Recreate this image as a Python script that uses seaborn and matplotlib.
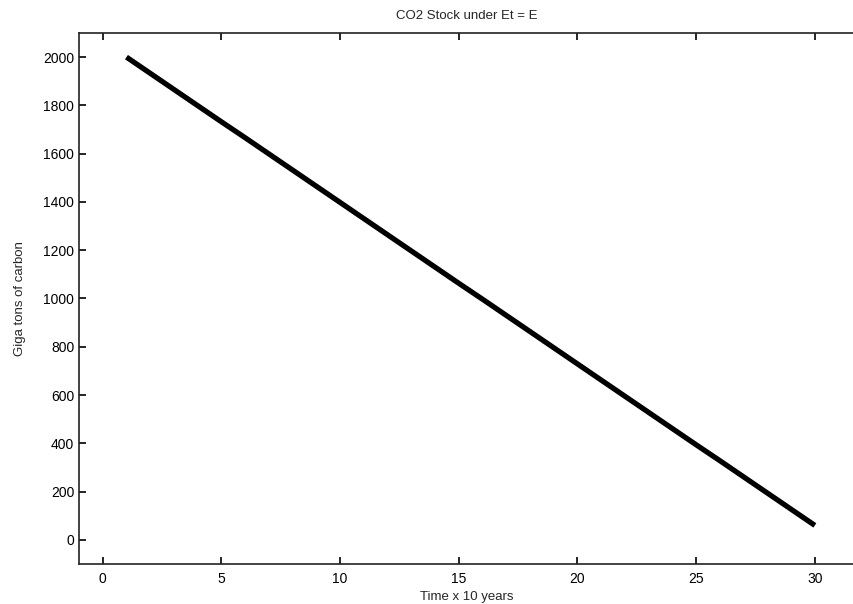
import numpy as np
import pandas as pd
import seaborn as sns
import matplotlib.pyplot as plt

#Values
time_steps = list(range(1, 31))
co2_stock = [2000, 1933, 1866, 1799, 1732, 1666, 1599, 1532, 1465, 1398,
             1331, 1264, 1197, 1130, 1063, 997, 930, 863, 796, 729,
             662, 595, 528, 461, 394, 328, 261, 194, 127, 60]
x_ticks = [0, 5, 10, 15, 20, 25, 30]
y_ticks = [0, 200, 400, 600, 800, 1000, 1200, 1400, 1600, 1800, 2000]

stockData = pd.DataFrame({'Time': time_steps, 'Stock': co2_stock})

sns.set_style("white")
plt.rcParams['font.family'] = ['Liberation Sans', 'DejaVu Sans']

fig = plt.figure(figsize=(8.54, 6.04), dpi=100)
ax = fig.add_axes([0.0925, 0.0662, 0.9075, 0.8792])

sns.lineplot(x="Time", y="Stock", data=stockData, color='black',
             linewidth=3.8, ax=ax, solid_capstyle='butt')

ax.set_xlim(-1, 31.65)
ax.set_ylim(-100, 2100)
ax.set_xticks(x_ticks)
ax.set_yticks(y_ticks)
ax.tick_params(direction='in', length=5, width=1.2, labelsize=10,
               top=True, bottom=True, left=True, right=False, colors='black')
ax.tick_params(axis='x', pad=6)
for side in ['left', 'bottom', 'top']:
    ax.spines[side].set_color('#222222')
    ax.spines[side].set_linewidth(1.2)
ax.spines['right'].set_visible(False)

ax.set_title('CO2 Stock under Et = E', fontsize=9.5, pad=10)
ax.set_xlabel('Time x 10 years', fontsize=9.5, labelpad=3)
ax.set_ylabel('Giga tons of carbon', fontsize=9.5, labelpad=12)

fig.savefig('out.png', dpi=100)
